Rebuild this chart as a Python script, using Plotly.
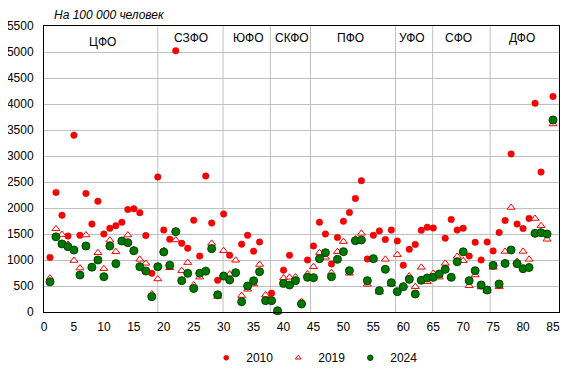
import plotly.graph_objects as go

# ---------------- data ----------------
region_idx = list(range(1, 86))

v2010 = [1050, 2300, 1860, 1460, 3400, 1475, 2280, 1690, 2130, 1500,
         1610, 1660, 1725, 1970, 1985, 1910, 1470, 745, 2595, 1575,
         1400, 5025, 1320, 1225, 1765, 1075, 2615, 1710, 610, 1885,
         1090, None, 1305, 1475, 1170, 1345, None, 360, None, 805,
         1090, None, 180, 1000, 1270, 1725, 1500, 925, 1435, 1745,
         1915, 2185, 2525, 1020, 1475, 1560, 1395, 1575, 1365, 900,
         1205, 1300, 1570, 1630, 1615, None, 1420, 1780, 1575, 1610,
         1075, 1340, 1000, 1345, 1175, 1530, 1760, 3040, 1690, 1605,
         1800, 4015, 2690, None, 4145]

v2019 = [650, 1600, 1490, 1300, 990, 845, 1480, 872, 1140, 833,
         1380, 1160, 1352, 1480, 1192, 1013, 936, 346, 635, 1180,
         850, 1385, 795, 950, 519, 670, 800, 1320, 300, 1179,
         728, 995, 315, 436, 538, 914, 327, 250, 0, 655,
         667, 673, 199, 731, 872, 1141, 1051, 756, 1160, 1353,
         744, 1404, 1513, 532, 1013, 385, 1013, 538, 1103, 500,
         692, 487, 859, 583, 743, 670, 936, 680, 1070, 987,
         505, 712, 480, 410, 859, 487, 1165, 2010, 970, 1165,
         1013, 1798, 1660, 1398, 3615]

v2024 = [580, 1445, 1308, 1256, 1192, 712, 1269, 862, 1000, 679,
         1269, 930, 1365, 1333, 1179, 872, 788, 295, 872, 1154,
         900, 1545, 603, 744, 452, 744, 785, 1218, 330, 692,
         615, 756, 198, 500, 600, 776, 218, 218, 25, 550,
         519, 603, 154, 667, 660, 1026, 1141, 679, 1013, 1160,
         795, 1372, 1385, 603, 1026, 410, 821, 564, 391, 487,
         628, 346, 610, 655, 667, 731, 821, 667, 965, 1157,
         602, 795, 519, 423, 897, 538, 933, 1192, 930, 833,
         856, 1513, 1526, 1500, 3692]

years = ["2010", "2019", "2024"]
districts = ["ЦФО", "СЗФО", "ЮФО", "СКФО", "ПФО", "УФО", "СФО", "ДФО"]
x_ticks = list(range(0, 90, 5))
y_ticks = list(range(0, 6000, 500))
units_label = "На 100 000 человек"

# ---------------- layout helpers (positions) ----------------
district_boundaries = [19.0, 29.9, 37.8, 44.5, 58.7, 64.9, 74.5]
district_label_x = [9.8, 24.5, 34.1, 41.4, 51.1, 61.5, 69.2, 79.9]
district_label_y = [5190, 5270, 5270, 5270, 5270, 5270, 5270, 5270]

FONT = "Arial, Liberation Sans, sans-serif"

styles = [
    dict(symbol="circle", size=6.5, color="#ff0000", line=dict(color="#d80000", width=0.5)),
    dict(symbol="triangle-up", size=7, color="#ffffff", line=dict(color="#ff0000", width=1)),
    dict(symbol="circle", size=8, color="#007800", line=dict(color="#004400", width=1)),
]
legend_styles = [
    dict(symbol="circle", size=5, color="#ff0000", line=dict(color="#d80000", width=0.5)),
    dict(symbol="triangle-up", size=5, color="#ffffff", line=dict(color="#ff0000", width=1)),
    dict(symbol="circle", size=5.5, color="#007800", line=dict(color="#004400", width=1)),
]

fig = go.Figure()
for name, vals, st in zip(years, [v2010, v2019, v2024], styles):
    fig.add_trace(go.Scatter(
        x=region_idx, y=vals, mode="markers", name=name, legendgroup=name,
        marker=st, cliponaxis=False, showlegend=False,
    ))
# legend entries with small symbols (as in the original)
for name, st in zip(years, legend_styles):
    fig.add_trace(go.Scatter(
        x=[None], y=[None], mode="markers", name=name, legendgroup=name,
        marker=st, showlegend=True,
    ))

shapes = []
for b in district_boundaries:
    shapes.append(dict(type="line", xref="x", yref="paper", x0=b, x1=b, y0=0, y1=1,
                       line=dict(color="#c0c0c0", width=1), layer="below"))

annotations = []
for name, lx, ly in zip(districts, district_label_x, district_label_y):
    annotations.append(dict(x=lx, y=ly, xref="x", yref="y", text=name, showarrow=False,
                            font=dict(family=FONT, size=12, color="#000000"),
                            xanchor="center", yanchor="middle"))
annotations.append(dict(x=0.016, y=1.038, xref="paper", yref="paper",
                        text="<i>" + units_label + "</i>", showarrow=False,
                        font=dict(family=FONT, size=12, color="#000000"),
                        xanchor="left", yanchor="middle"))

# the page body adds an 8px margin on every side, so the figure is sized to fit
# inside the 575x376 window and its margins are shifted accordingly
fig.update_layout(
    template="none",
    width=559, height=360,
    margin=dict(l=36, r=8, t=18, b=56, pad=0, autoexpand=False),
    paper_bgcolor="#ffffff", plot_bgcolor="#ffffff",
    font=dict(family=FONT, size=12, color="#000000"),
    showlegend=True,
    legend=dict(orientation="h", x=0.315, y=-0.16, xanchor="left", yanchor="middle",
                font=dict(family=FONT, size=12, color="#000000"),
                itemwidth=30, bgcolor="rgba(0,0,0,0)", borderwidth=0),
    shapes=shapes,
    annotations=annotations,
)

fig.update_xaxes(range=[0, 86], tickvals=x_ticks, ticktext=[str(t) for t in x_ticks],
                 automargin=False, showgrid=False, zeroline=False,
                 showline=True, linecolor="#000000", linewidth=1, mirror=True,
                 ticks="outside", ticklen=4, tickcolor="rgba(0,0,0,0)",
                 tickfont=dict(family=FONT, size=12, color="#000000"))
fig.update_yaxes(range=[0, 5500], tickvals=y_ticks, ticktext=[str(t) for t in y_ticks],
                 automargin=False, showgrid=True, gridcolor="#c0c0c0", gridwidth=1, zeroline=False,
                 showline=True, linecolor="#000000", linewidth=1, mirror=True,
                 ticks="outside", ticklen=7, tickcolor="rgba(0,0,0,0)",
                 tickfont=dict(family=FONT, size=12, color="#000000"))

fig.write_html("out.html")
